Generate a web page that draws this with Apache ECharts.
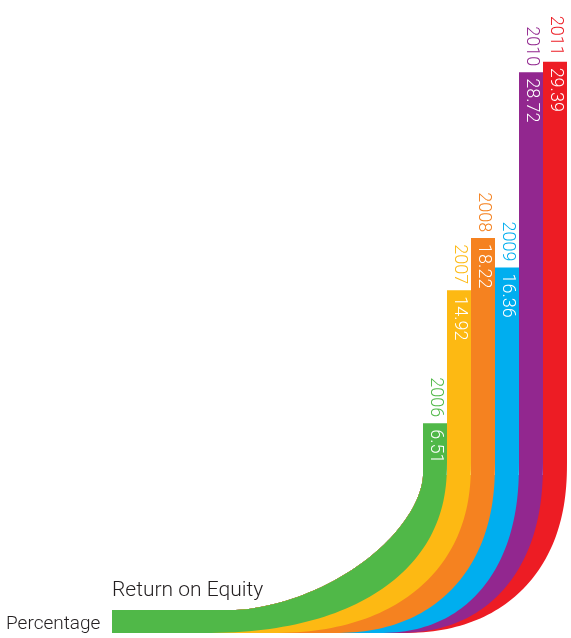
<!DOCTYPE html>
<html>
<head>
<meta charset="utf-8">
<script src="https://cdn.jsdelivr.net/npm/echarts@6/dist/echarts.min.js"></script>
<style>
html,body{margin:0;padding:0;background:#fff;}
#chart{width:571px;height:638px;}
</style>
</head>
<body>
<div id="chart"></div>
<script>
// ---- data ----
const years = ['2006', '2007', '2008', '2009', '2010', '2011'];
const roe = [6.51, 14.92, 18.22, 16.36, 28.72, 29.39];
const titleText = 'Return on Equity';
const unitText = 'Percentage';

// ---- style ----
const colors = ['#50b848', '#fdb913', '#f58220', '#00aeef', '#92278f', '#ed1c24'];
// curve decoration geometry (pixels)
const geo = {
  outerStartY: 462, bottomY: 633, stripTopY: 610, leftX: 112,
  innerStartY: 475, innerEndX: 233, innerN: 1.7, outerN: 2.3,
  outerEndX: [200, 269, 332, 377, 395, 400]
};

function superArc(xB, yJ, rx, ry, n, reverse) {
  const pts = [];
  const N = 60;
  for (let k = 0; k <= N; k++) {
    const t = (k / N) * Math.PI / 2;
    const c = Math.max(0, Math.cos(t)), s = Math.max(0, Math.sin(t));
    pts.push([xB + rx * Math.pow(c, 2 / n), yJ + ry * Math.pow(s, 2 / n)]);
  }
  return reverse ? pts.reverse() : pts;
}

const chart = echarts.init(document.getElementById('chart'), null, {renderer: 'canvas'});
const fontFamily = 'Roboto, "Liberation Sans", sans-serif';

chart.setOption({
  animation: false,
  backgroundColor: '#ffffff',
  title: [
    {text: titleText, left: 112, top: 580, padding: 0, textStyle: {fontFamily, fontSize: 21, fontWeight: 300, color: '#231f20'}},
    {text: unitText, left: 6, top: 615, padding: 0, textStyle: {fontFamily, fontSize: 19, fontWeight: 300, color: '#231f20'}}
  ],
  grid: {left: 423, right: 4, top: 52, bottom: 112},
  xAxis: {type: 'category', data: years, show: false, boundaryGap: true},
  yAxis: {type: 'value', min: 0, max: 30, show: false},
  series: [{
    type: 'custom',
    clip: false,
    data: years.map((y, i) => [i, roe[i]]),
    renderItem: function (params, api) {
      const i = api.value(0);
      const v = api.value(1);
      const p = api.coord([i, v]);
      const w = api.size([1, 0])[0];
      const xL = p[0] - w / 2, xR = p[0] + w / 2, yTop = p[1];
      const first = api.coord([0, 0])[0] - w / 2;
      const xB = geo.outerEndX[i];
      const outer = superArc(xB, geo.outerStartY, xR - xB, geo.bottomY - geo.outerStartY, geo.outerN, false);
      const inner = superArc(geo.innerEndX, geo.innerStartY, first - geo.innerEndX, geo.stripTopY - geo.innerStartY, geo.innerN, true);
      const pts = [[xL, yTop], [xR, yTop]].concat(outer)
        .concat([[geo.leftX, geo.bottomY], [geo.leftX, geo.stripTopY]])
        .concat(inner)
        .concat([[xL, geo.innerStartY]]);
      return {
        type: 'group',
        children: [
          {type: 'polygon', z2: 20 - i, shape: {points: pts}, style: {fill: colors[i]}},
          {type: 'text', z2: 100, x: p[0], y: yTop + 6, rotation: -Math.PI / 2,
           style: {text: v.toFixed(2), fill: '#ffffff', font: '300 18px ' + fontFamily, align: 'left', verticalAlign: 'middle'}},
          {type: 'text', z2: 100, x: p[0], y: yTop - 6, rotation: -Math.PI / 2,
           style: {text: years[i], fill: colors[i], font: '300 18px ' + fontFamily, align: 'right', verticalAlign: 'middle'}}
        ]
      };
    }
  }]
});
</script>
</body>
</html>
